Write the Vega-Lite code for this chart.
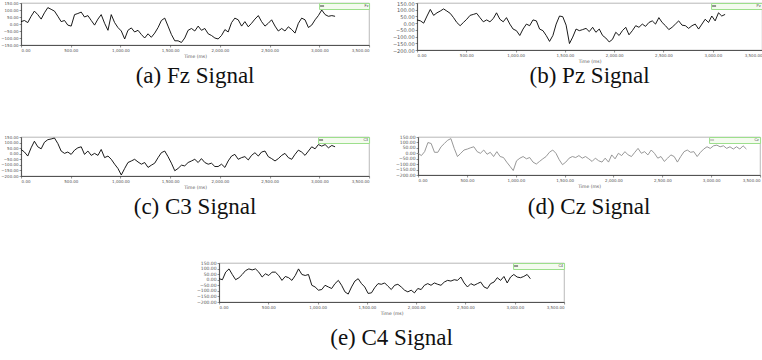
{
"$schema": "https://vega.github.io/schema/vega-lite/v6.json",
"padding": 0,
"background": "white",
"config": {
  "view": {"stroke": "#9a9a9a", "strokeWidth": 0.7},
  "axis": {"grid": false, "labelFontSize": 4, "labelColor": "#555", "tickSize": 2, "tickColor": "#444", "tickWidth": 0.6, "domainColor": "#333", "domainWidth": 0.8, "labelPadding": 1, "titleFontSize": 4.5, "titleFontWeight": "normal", "titleColor": "#555", "titlePadding": 1, "labelFont": "DejaVu Sans", "titleFont": "DejaVu Sans"},
  "axisX": {"labelFlush": true},
  "title": {"font": "Liberation Serif", "fontSize": 23, "fontWeight": "normal", "color": "#111", "orient": "bottom", "anchor": "middle"},
  "legend": {"orient": "top-right", "offset": 0, "padding": 0.5, "strokeColor": "#9ddf8c", "fillColor": "#f4fbef", "labelFontSize": 3.5, "labelColor": "#444", "symbolType": "stroke", "symbolSize": 16, "symbolStrokeWidth": 0.8, "rowPadding": 0, "labelOffset": 40, "cornerRadius": 0, "title": null}
},
"datasets": {"eeg": [
{"t":0,"a":17,"b":24,"c":38,"d":0,"e":9},
{"t":34,"a":25,"b":17,"c":15,"d":-21,"e":0},
{"t":67,"a":10,"b":0,"c":-21,"d":15,"e":68},
{"t":101,"a":55,"b":53,"c":53,"d":99,"e":97},
{"t":134,"a":92,"b":102,"c":112,"d":90,"e":47},
{"t":168,"a":67,"b":58,"c":62,"d":9,"e":0},
{"t":202,"a":35,"b":77,"c":44,"d":9,"e":18},
{"t":235,"a":80,"b":90,"c":103,"d":60,"e":47},
{"t":269,"a":117,"b":106,"c":126,"d":90,"e":82},
{"t":302,"a":105,"b":90,"c":132,"d":120,"e":97},
{"t":336,"a":92,"b":73,"c":141,"d":135,"e":88},
{"t":370,"a":55,"b":41,"c":91,"d":45,"e":97},
{"t":403,"a":17,"b":5,"c":24,"d":-30,"e":68},
{"t":437,"a":25,"b":-19,"c":3,"d":0,"e":24},
{"t":470,"a":-8,"b":5,"c":15,"d":30,"e":53},
{"t":504,"a":-15,"b":29,"c":-6,"d":39,"e":38},
{"t":538,"a":67,"b":58,"c":32,"d":51,"e":68},
{"t":571,"a":75,"b":65,"c":53,"d":60,"e":68},
{"t":605,"a":85,"b":73,"c":62,"d":15,"e":38},
{"t":638,"a":50,"b":41,"c":-6,"d":0,"e":-6},
{"t":672,"a":60,"b":10,"c":24,"d":30,"e":29},
{"t":706,"a":25,"b":24,"c":-15,"d":-9,"e":18},
{"t":739,"a":-8,"b":10,"c":3,"d":9,"e":-6},
{"t":773,"a":35,"b":34,"c":-15,"d":-30,"e":38},
{"t":806,"a":67,"b":77,"c":38,"d":15,"e":97},
{"t":840,"a":5,"b":29,"c":-35,"d":-30,"e":47},
{"t":874,"a":-45,"b":10,"c":-21,"d":-39,"e":38},
{"t":907,"a":67,"b":41,"c":-50,"d":-81,"e":47},
{"t":941,"a":10,"b":-7,"c":-94,"d":-120,"e":-50},
{"t":974,"a":-25,"b":-44,"c":-132,"d":-159,"e":-65},
{"t":1008,"a":-50,"b":-56,"c":-191,"d":-69,"e":-94},
{"t":1042,"a":-107,"b":-92,"c":-132,"d":-45,"e":-88},
{"t":1075,"a":-45,"b":-44,"c":-79,"d":-30,"e":-50},
{"t":1109,"a":-28,"b":-7,"c":-65,"d":-51,"e":-65},
{"t":1142,"a":-57,"b":-19,"c":-50,"d":-39,"e":-79},
{"t":1176,"a":-45,"b":24,"c":-74,"d":-81,"e":-35},
{"t":1210,"a":-75,"b":17,"c":-94,"d":-99,"e":-6},
{"t":1243,"a":-100,"b":-44,"c":-79,"d":-75,"e":-50},
{"t":1277,"a":-70,"b":-56,"c":-123,"d":-51,"e":-109},
{"t":1310,"a":-95,"b":-92,"c":-103,"d":-30,"e":-129},
{"t":1344,"a":-65,"b":-136,"c":-85,"d":9,"e":-65},
{"t":1378,"a":-25,"b":-92,"c":-35,"d":30,"e":-12},
{"t":1411,"a":25,"b":-7,"c":9,"d":0,"e":9},
{"t":1445,"a":42,"b":53,"c":24,"d":-60,"e":-35},
{"t":1478,"a":-15,"b":48,"c":-26,"d":-105,"e":-65},
{"t":1512,"a":-75,"b":-15,"c":-85,"d":-81,"e":-123},
{"t":1546,"a":-120,"b":-152,"c":-153,"d":-45,"e":-118},
{"t":1579,"a":-120,"b":-104,"c":-132,"d":-30,"e":-71},
{"t":1613,"a":-132,"b":-44,"c":-103,"d":-39,"e":-35},
{"t":1646,"a":-100,"b":-56,"c":-109,"d":-21,"e":-41},
{"t":1680,"a":-45,"b":-48,"c":-79,"d":-45,"e":-29},
{"t":1714,"a":-32,"b":-39,"c":-65,"d":-30,"e":-59},
{"t":1747,"a":-50,"b":-63,"c":-50,"d":-51,"e":-88},
{"t":1781,"a":-15,"b":-31,"c":-79,"d":-75,"e":-50},
{"t":1814,"a":-45,"b":-68,"c":-44,"d":-45,"e":-41},
{"t":1848,"a":-32,"b":-44,"c":-79,"d":-69,"e":-65},
{"t":1882,"a":-70,"b":-92,"c":-94,"d":-81,"e":-94},
{"t":1915,"a":-82,"b":-111,"c":-85,"d":-45,"e":-109},
{"t":1949,"a":-100,"b":-140,"c":-115,"d":-81,"e":-94},
{"t":1982,"a":-107,"b":-121,"c":-115,"d":-15,"e":-118},
{"t":2016,"a":-82,"b":-68,"c":-94,"d":-51,"e":-79},
{"t":2050,"a":-40,"b":-92,"c":-123,"d":0,"e":-88},
{"t":2083,"a":-57,"b":-56,"c":-65,"d":-21,"e":-50},
{"t":2117,"a":10,"b":-31,"c":-21,"d":15,"e":-35},
{"t":2150,"a":42,"b":-87,"c":-6,"d":-15,"e":-50},
{"t":2184,"a":30,"b":-56,"c":-50,"d":-30,"e":-29},
{"t":2218,"a":-15,"b":-19,"c":-35,"d":9,"e":-41},
{"t":2251,"a":17,"b":-31,"c":-26,"d":45,"e":-50},
{"t":2285,"a":-20,"b":-7,"c":-56,"d":0,"e":-21},
{"t":2318,"a":5,"b":-24,"c":-15,"d":15,"e":-6},
{"t":2352,"a":35,"b":5,"c":9,"d":-15,"e":-12},
{"t":2386,"a":60,"b":17,"c":-21,"d":30,"e":0},
{"t":2419,"a":17,"b":-7,"c":15,"d":0,"e":-6},
{"t":2453,"a":-15,"b":41,"c":24,"d":-45,"e":24},
{"t":2486,"a":5,"b":5,"c":-26,"d":-30,"e":-29},
{"t":2520,"a":30,"b":-19,"c":-44,"d":-75,"e":-65},
{"t":2554,"a":-15,"b":-48,"c":-65,"d":-45,"e":-35},
{"t":2587,"a":-50,"b":-31,"c":-44,"d":-15,"e":-50},
{"t":2621,"a":-32,"b":-7,"c":-15,"d":-30,"e":-35},
{"t":2654,"a":-50,"b":17,"c":3,"d":-81,"e":-21},
{"t":2688,"a":-20,"b":-15,"c":-35,"d":-30,"e":-65},
{"t":2722,"a":-40,"b":-19,"c":-50,"d":15,"e":-79},
{"t":2755,"a":-65,"b":-39,"c":-6,"d":30,"e":-35},
{"t":2789,"a":5,"b":-19,"c":32,"d":9,"e":-21},
{"t":2822,"a":42,"b":-7,"c":15,"d":15,"e":18},
{"t":2856,"a":30,"b":-44,"c":-15,"d":-30,"e":-6},
{"t":2890,"a":-25,"b":-7,"c":24,"d":9,"e":29},
{"t":2923,"a":-8,"b":29,"c":62,"d":39,"e":-29},
{"t":2957,"a":30,"b":5,"c":44,"d":60,"e":24},
{"t":2990,"a":60,"b":53,"c":82,"d":45,"e":47},
{"t":3024,"a":100,"b":17,"c":68,"d":69,"e":24},
{"t":3058,"a":67,"b":77,"c":82,"d":75,"e":18},
{"t":3091,"a":55,"b":53,"c":53,"d":60,"e":29},
{"t":3125,"a":60,"b":65,"c":74,"d":69,"e":47},
{"t":3158,"a":55,"c":62,"d":45,"e":9},
{"t":3192,"d":60},
{"t":3226,"d":39},
{"t":3259,"d":60},
{"t":3293,"d":39},
{"t":3326,"d":69},
{"t":3360,"d":39}
]},
"resolve": {"scale": {"x": "independent", "y": "independent", "color": "independent"}, "legend": {"color": "independent"}, "axis": {"x": "independent", "y": "independent"}},
"center": true,
"spacing": 40,
"vconcat": [
{"vconcat": [
{"hconcat": [
  {"title": {"text": "(a) Fz Signal", "offset": 7},
   "width": 348, "height": 42, "data": {"name": "eeg"},
   "transform": [{"filter": "isValid(datum.a)"}],
   "mark": {"type": "line", "strokeWidth": 0.9},
   "encoding": {
     "x": {"field": "t", "type": "quantitative", "scale": {"domain": [0, 3500], "nice": false, "zero": false}, "axis": {"values": [0,500,1000,1500,2000,2500,3000,3500], "format": ",.2f", "title": "Time (ms)"}},
     "y": {"field": "a", "type": "quantitative", "scale": {"domain": [-150, 150], "nice": false}, "axis": {"values": [-150,-100,-50,0,50,100,150], "format": ".2f", "title": null, "minExtent": 19, "maxExtent": 19}},
     "color": {"datum": "Fz", "scale": {"range": ["#000000"]}}
   }},
  {"title": {"text": "(b) Pz Signal", "offset": 2},
   "width": 345, "height": 47, "data": {"name": "eeg"},
   "transform": [{"filter": "isValid(datum.b)"}],
   "mark": {"type": "line", "strokeWidth": 0.9},
   "encoding": {
     "x": {"field": "t", "type": "quantitative", "scale": {"domain": [0, 3500], "nice": false, "zero": false}, "axis": {"values": [0,500,1000,1500,2000,2500,3000,3500], "format": ",.2f", "title": "Time (ms)"}},
     "y": {"field": "b", "type": "quantitative", "scale": {"domain": [-200, 150], "nice": false}, "axis": {"values": [-200,-150,-100,-50,0,50,100,150], "format": ".2f", "title": null, "labelFontSize": 5, "minExtent": 33, "maxExtent": 33}},
     "color": {"datum": "Pz", "scale": {"range": ["#000000"]}}
   }}
 ], "spacing": 13,
 "resolve": {"scale": {"x": "independent", "y": "independent", "color": "independent"}, "legend": {"color": "independent"}, "axis": {"x": "independent", "y": "independent"}}},
{"hconcat": [
  {"title": {"text": "(c) C3 Signal", "offset": 7},
   "width": 348, "height": 39, "data": {"name": "eeg"},
   "transform": [{"filter": "isValid(datum.c)"}],
   "mark": {"type": "line", "strokeWidth": 0.9},
   "encoding": {
     "x": {"field": "t", "type": "quantitative", "scale": {"domain": [0, 3500], "nice": false, "zero": false}, "axis": {"values": [0,500,1000,1500,2000,2500,3000,3500], "format": ",.2f", "title": "Time (ms)"}},
     "y": {"field": "c", "type": "quantitative", "scale": {"domain": [-200, 150], "nice": false}, "axis": {"values": [-200,-150,-100,-50,0,50,100,150], "format": ".2f", "title": null, "minExtent": 19, "maxExtent": 19}},
     "color": {"datum": "C3", "scale": {"range": ["#000000"]}}
   }},
  {"title": {"text": "(d) Cz Signal", "offset": 8},
   "width": 342, "height": 38, "data": {"name": "eeg"},
   "transform": [{"filter": "isValid(datum.d)"}],
   "mark": {"type": "line", "strokeWidth": 0.9},
   "encoding": {
     "x": {"field": "t", "type": "quantitative", "scale": {"domain": [0, 3500], "nice": false, "zero": false}, "axis": {"values": [0,500,1000,1500,2000,2500,3000,3500], "format": ",.2f", "title": "Time (ms)"}},
     "y": {"field": "d", "type": "quantitative", "scale": {"domain": [-200, 150], "nice": false}, "axis": {"values": [-200,-150,-100,-50,0,50,100,150], "format": ".2f", "title": null, "labelFontSize": 4.5, "minExtent": 34, "maxExtent": 34}},
     "color": {"datum": "Cz", "scale": {"range": ["#8c8c8c"]}}
   }}
 ], "spacing": 13,
 "resolve": {"scale": {"x": "independent", "y": "independent", "color": "independent"}, "legend": {"color": "independent"}, "axis": {"x": "independent", "y": "independent"}}}
], "spacing": 45,
 "resolve": {"scale": {"x": "independent", "y": "independent", "color": "independent"}, "legend": {"color": "independent"}, "axis": {"x": "independent", "y": "independent"}}},
{"title": {"text": "(e) C4 Signal", "offset": 12},
 "width": 345, "height": 39, "data": {"name": "eeg"},
 "transform": [{"filter": "isValid(datum.e)"}],
 "mark": {"type": "line", "strokeWidth": 0.9},
 "encoding": {
   "x": {"field": "t", "type": "quantitative", "scale": {"domain": [0, 3500], "nice": false, "zero": false}, "axis": {"values": [0,500,1000,1500,2000,2500,3000,3500], "format": ",.2f", "title": "Time (ms)"}},
   "y": {"field": "e", "type": "quantitative", "scale": {"domain": [-200, 150], "nice": false}, "axis": {"values": [-200,-150,-100,-50,0,50,100,150], "format": ".2f", "title": null, "labelFontSize": 4.5, "minExtent": 27, "maxExtent": 27}},
   "color": {"datum": "C4", "scale": {"range": ["#000000"]}}
 }}
]
}
